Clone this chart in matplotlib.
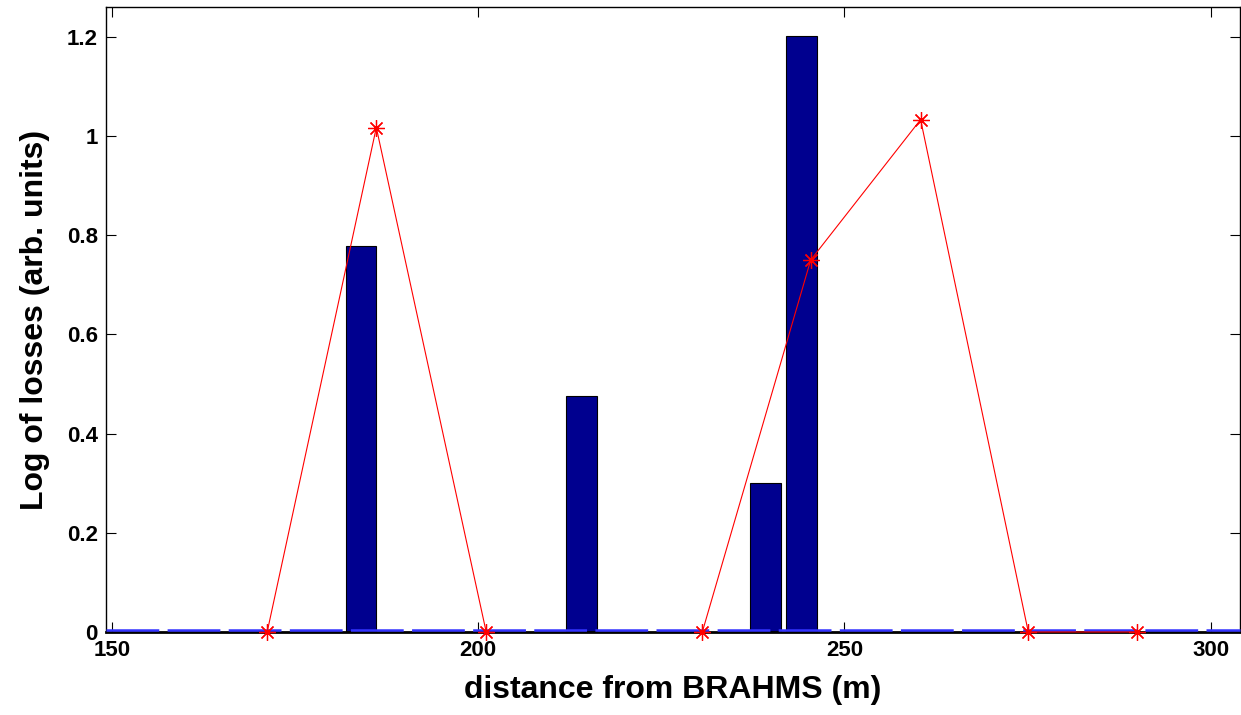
import numpy as np
import matplotlib
matplotlib.use("Agg")
import matplotlib.pyplot as plt

# Data
bar_x = [184.0, 214.1, 239.2, 244.1]
bar_h = [0.779, 0.476, 0.301, 1.202]
line_x = [171.2, 186.1, 201.1, 216.0, 230.6, 245.4, 260.4, 275.1, 290.0]
line_y = [0.0, 1.017, 0.0, np.nan, 0.0, 0.750, 1.033, 0.0, 0.0]
xticks = [150, 200, 250, 300]
yticks = [0, 0.2, 0.4, 0.6, 0.8, 1.0, 1.2]
ytick_labels = ["0", "0.2", "0.4", "0.6", "0.8", "1", "1.2"]

plt.rcParams['font.family'] = ['Liberation Sans', 'DejaVu Sans']
plt.rcParams['lines.scale_dashes'] = False

W, H = 1241, 715
fig = plt.figure(figsize=(W / 100, H / 100), dpi=100)
ax = fig.add_axes([106 / W, 83 / H, (1240 - 106) / W, (708 - 83) / H])

ax.bar(bar_x, bar_h, width=4.2, color='#00008F', edgecolor='black', linewidth=0.8, zorder=2)
ax.plot(line_x, line_y, color='red', linewidth=0.8, marker=(8, 2, 0), markersize=12,
        markeredgewidth=0.9, zorder=4, clip_on=False)
ax.axhline(0.004, color=(0.2, 0.2, 1.0), linewidth=1.8, dashes=(38, 6), zorder=3.5,
           clip_on=False)

ax.set_xlim(149.2, 304.0)
ax.set_ylim(0, 1.26)
ax.set_xticks(xticks)
ax.set_yticks(yticks)
ax.set_yticklabels(ytick_labels)
ax.tick_params(direction='in', length=7, width=0.8, top=True, right=True,
               labelsize=16, pad=6)
for lab in ax.get_xticklabels() + ax.get_yticklabels():
    lab.set_fontweight('bold')
for sp in ax.spines.values():
    sp.set_linewidth(1.0)
ax.spines['bottom'].set_linewidth(2.0)

ax.set_xlabel('distance from BRAHMS (m)', fontsize=23, fontweight='bold', labelpad=10)
ax.set_ylabel('Log of losses (arb. units)', fontsize=23, fontweight='bold', labelpad=12)

fig.savefig('out.png', dpi=100)
